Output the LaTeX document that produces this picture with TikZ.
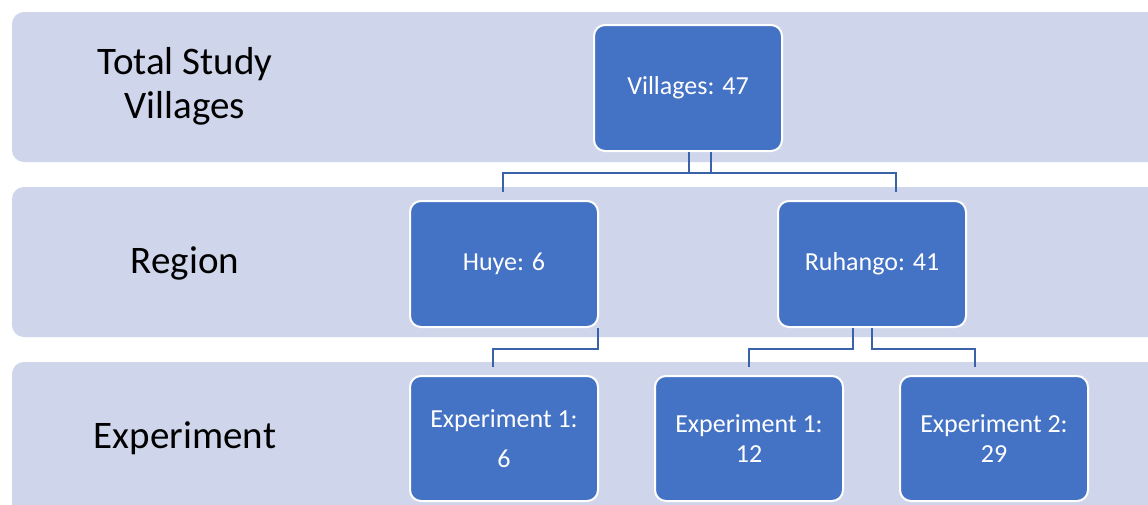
\documentclass[tikz,border=0pt]{standalone}
\usepackage{fontspec}
\setmainfont{Carlito}
\usetikzlibrary{calc}
\definecolor{bandc}{HTML}{CFD5EA}
\definecolor{boxc}{HTML}{4472C4}
\definecolor{connc}{HTML}{3A62A8}
\tikzset{
  band/.style={fill=bandc, draw=none, rounded corners=12pt},
  lbl/.style={font=\fontsize{39}{44}\selectfont, text=black, align=center},
  bx/.style={rectangle, fill=boxc, draw=white, line width=2pt, rounded corners=11pt,
    minimum width=188pt, minimum height=126pt, text=white, align=center,
    font=\fontsize{26}{30}\selectfont, inner sep=0pt},
  conn/.style={draw=connc, line width=2.6pt}
}
\begin{document}
\begin{tikzpicture}[x=1pt,y=-1pt]
\useasboundingbox (0,0) rectangle (1148,504);
\clip (0,0) rectangle (1148,504);
\fill[white] (0,0) rectangle (1148,504);
% bands
\path[band] (12,12) rectangle (1180,162);
\path[band] (12,187) rectangle (1180,337);
\path[band] (12,362) rectangle (1180,540);
% labels
\node[lbl] (l1) at (185,86) {Total Study\\Villages};
\node[lbl] (l2) at (185,263) {Region};
\node[lbl] (l3) at (185,438) {Experiment};
% boxes
\node[bx] (top) at (688,88) {Villages: 47};
\node[bx] (huye) at (504,264) {Huye: 6};
\node[bx] (ruh) at (872,264) {Ruhango: 41};
\node[bx, minimum height=125pt, font=\fontsize{26}{40}\selectfont] (e1) at (504,438.5) {Experiment 1:\\6};
\node[bx, minimum height=125pt] (e2) at (749,438.5) {Experiment 1:\\12};
\node[bx, minimum height=125pt] (e3) at (994,438.5) {Experiment 2:\\29};
% connectors
\draw[conn] ($(top.south)+(23,0)$) -- ++(0,21) -| ($(huye.north)+(-1,-8)$);
\draw[conn] ($(top.south)+(1,0)$) -- ++(0,21) -| ($(ruh.north)+(24,-8)$);
\draw[conn] ($(huye.south)+(94,0)$) -- ++(0,21) -| ($(e1.north)+(-11,-8)$);
\draw[conn] ($(ruh.south)+(-19,0)$) -- ++(0,21) -| ($(e2.north)+(0,-8)$);
\draw[conn] ($(ruh.south)+(0,0)$) -- ++(0,21) -| ($(e3.north)+(-19,-8)$);
\end{tikzpicture}
\end{document}
